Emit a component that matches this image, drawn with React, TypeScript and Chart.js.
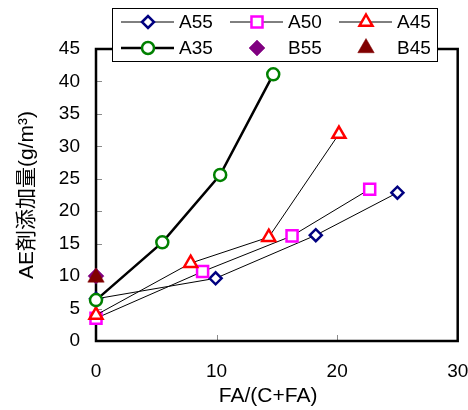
import React, { useEffect, useRef } from "react";
import { Chart, registerables } from "chart.js";
import { drawPoint } from "chart.js/helpers";

Chart.register(...registerables);

// ---- data ----
const SERIES_LABELS = ["A55", "A50", "A45", "A35", "B55", "B45"];
const A55_X = [0, 9.92, 18.23, 25.0];
const A55_Y = [6.5, 9.66, 16.3, 22.85];
const A50_X = [0, 8.84, 16.26, 22.7];
const A50_Y = [3.5, 10.7, 16.2, 23.4];
const A45_X = [0, 7.85, 14.33, 20.15];
const A45_Y = [4.0, 12.0, 16.0, 31.9];
const A35_X = [0, 5.5, 10.3, 14.7];
const A35_Y = [6.3, 15.2, 25.6, 41.1];
const B55_X = [0];
const B55_Y = [10.0];
const B45_X = [0];
const B45_Y = [9.8];
const X_TICKS = [0, 10, 20, 30];
const Y_TICKS = [0, 5, 10, 15, 20, 25, 30, 35, 40, 45];
const X_TITLE = "FA/(C+FA)";
const Y_TITLE = "AE剤添加量(g/m³)";

const FONT_FAMILY = "'Liberation Sans', Arial, 'Noto Sans CJK JP', sans-serif";

const pts = (xs: number[], ys: number[]) => xs.map((x, i) => ({ x, y: ys[i] }));

const framePlugin = {
  id: "frame",
  beforeDatasetsDraw(chart: any) {
    const { ctx, chartArea: a, scales } = chart;
    ctx.save();
    // inner tick marks
    ctx.strokeStyle = "#8a8a8a";
    ctx.lineWidth = 1;
    ctx.beginPath();
    X_TICKS.forEach((v) => {
      if (v === X_TICKS[0] || v === X_TICKS[X_TICKS.length - 1]) return;
      const px = Math.round(scales.x.getPixelForValue(v)) + 0.5;
      ctx.moveTo(px, a.bottom);
      ctx.lineTo(px, a.bottom - 6);
    });
    Y_TICKS.forEach((v) => {
      if (v === Y_TICKS[0] || v === Y_TICKS[Y_TICKS.length - 1]) return;
      const py = Math.round(scales.y.getPixelForValue(v)) + 0.5;
      ctx.moveTo(a.left, py);
      ctx.lineTo(a.left + 6, py);
    });
    ctx.stroke();
    // frame
    ctx.strokeStyle = "#000";
    ctx.lineWidth = 2.5;
    ctx.strokeRect(a.left, a.top, a.right - a.left, a.bottom - a.top);
    ctx.restore();
  },
};

const legendPlugin = {
  id: "customLegend",
  afterDraw(chart: any) {
    const { ctx } = chart;
    const boxL = 112, boxT = 8, boxW = 325, boxH = 53;
    ctx.save();
    ctx.fillStyle = "#fff";
    ctx.fillRect(boxL, boxT, boxW, boxH);
    ctx.strokeStyle = "#000";
    ctx.lineWidth = 1;
    ctx.strokeRect(boxL + 0.5, boxT + 0.5, boxW, boxH);
    ctx.font = `19px ${FONT_FAMILY}`;
    ctx.textBaseline = "middle";
    ctx.textAlign = "left";
    chart.data.datasets.forEach((ds: any, i: number) => {
      const col = i % 3;
      const row = Math.floor(i / 3);
      const x0 = boxL + 9 + col * 109;
      const y = boxT + 14 + row * 26;
      if (ds.showLine !== false) {
        ctx.strokeStyle = ds.borderColor;
        ctx.lineWidth = ds.borderWidth;
        ctx.beginPath();
        ctx.moveTo(x0, y);
        ctx.lineTo(x0 + 53, y);
        ctx.stroke();
      }
      ctx.fillStyle = ds.pointBackgroundColor;
      ctx.strokeStyle = ds.pointBorderColor;
      ctx.lineWidth = ds.pointBorderWidth;
      drawPoint(ctx, { pointStyle: ds.pointStyle, radius: ds.pointRadius, borderWidth: ds.pointBorderWidth, rotation: 0 }, x0 + 27, y);
      ctx.fillStyle = "#000";
      ctx.fillText(ds.label, x0 + 58, y + 1);
    });
    ctx.restore();
  },
};

export default function App() {
  const ref = useRef<HTMLCanvasElement | null>(null);
  useEffect(() => {
    if (!ref.current) return;
    const mk = (label: string, data: any[], color: string, style: string, radius: number, opts: any) => ({
      label,
      data,
      borderColor: "#000",
      pointBorderColor: color,
      pointBackgroundColor: "#fff",
      pointStyle: style,
      pointRadius: radius,
      pointBorderWidth: 2.5,
      borderWidth: 1,
      clip: false,
      ...opts,
    });
    const datasets = [
      mk(SERIES_LABELS[0], pts(A55_X, A55_Y), "#000080", "rectRot", 6, { order: 6 }),
      mk(SERIES_LABELS[1], pts(A50_X, A50_Y), "#ff00ff", "rect", 7.8, { order: 5 }),
      mk(SERIES_LABELS[2], pts(A45_X, A45_Y), "#ff0000", "triangle", 7.5, { order: 4 }),
      mk(SERIES_LABELS[3], pts(A35_X, A35_Y), "#008000", "circle", 6, { order: 3, borderWidth: 2.5 }),
      mk(SERIES_LABELS[4], pts(B55_X, B55_Y), "#800080", "rectRot", 8, {
        order: 2, showLine: false, pointBackgroundColor: "#800080", pointBorderWidth: 0.5,
      }),
      mk(SERIES_LABELS[5], pts(B45_X, B45_Y), "#800000", "triangle", 9.5, {
        order: 1, showLine: false, pointBackgroundColor: "#800000", pointBorderWidth: 0.5,
      }),
    ];
    const font = { family: FONT_FAMILY, size: 19 };
    const titleFont = { family: FONT_FAMILY, size: 21 };
    const chart = new Chart(ref.current, {
      type: "line",
      data: { datasets },
      options: {
        animation: false,
        responsive: false,
        maintainAspectRatio: false,
        layout: { padding: { top: 49, right: 10, left: 0, bottom: 0 } },
        plugins: { legend: { display: false }, tooltip: { enabled: false } },
        scales: {
          x: {
            type: "linear",
            min: X_TICKS[0],
            max: X_TICKS[X_TICKS.length - 1],
            afterBuildTicks: (s: any) => { s.ticks = X_TICKS.map((v) => ({ value: v })); },
            ticks: { font, color: "#000", padding: 19 },
            grid: { display: false, drawTicks: false },
            border: { display: false },
            title: { display: true, text: X_TITLE + "   ", font: titleFont, color: "#000", padding: { top: 0, bottom: 1.4 } },
            afterFit: (s: any) => { s.height = 69; s.paddingLeft = 0; s.paddingRight = 0; },
          },
          y: {
            type: "linear",
            min: Y_TICKS[0],
            max: Y_TICKS[Y_TICKS.length - 1],
            afterBuildTicks: (s: any) => { s.ticks = Y_TICKS.map((v) => ({ value: v })); },
            ticks: { font, color: "#000", padding: 16 },
            grid: { display: false, drawTicks: false },
            border: { display: false },
            title: { display: true, text: Y_TITLE, font: titleFont, color: "#000", padding: { top: 15, bottom: 0 } },
            afterFit: (s: any) => { s.width = 96; s.paddingTop = 0; s.paddingBottom = 0; },
          },
        },
      },
      plugins: [framePlugin, legendPlugin],
    } as any);
    return () => chart.destroy();
  }, []);
  return (
    <canvas
      ref={ref}
      width={468}
      height={410}
      style={{ position: "absolute", left: 0, top: 0, background: "#fff" }}
    />
  );
}
